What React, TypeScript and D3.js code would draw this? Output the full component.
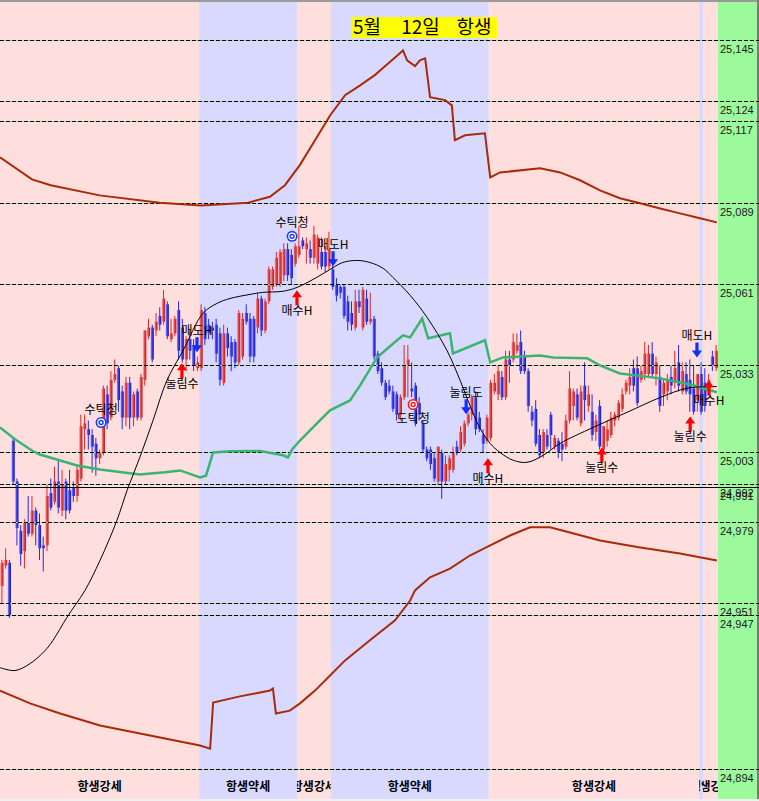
import React from "react";
import * as d3 from "d3";

// ---------- DATA ----------
// candles: [open, high, low, close]
const candles: [number, number, number, number][] = [
  [24957,24966,24951,24965],[24964,24970,24963,24966],[24965,24966,24946,24947],[25007,25008,24992,24993],
  [24993,24994,24971,24977],[24976,24978,24964,24968],[24969,24980,24963,24979],[24979,24988,24974,24975],
  [24975,24988,24974,24983],[24983,24984,24971,24978],[24978,24982,24966,24970],[24971,24974,24962,24970],
  [24971,24992,24969,24988],[24989,24994,24983,24984],[24986,24998,24985,24993],[24993,25000,24982,24984],
  [24983,24997,24981,24992],[24993,24994,24980,24983],[24990,24997,24982,24983],[24991,24993,24986,24988],
  [24988,24999,24986,24997],[24994,25016,24993,25012],[25011,25016,25004,25013],[25011,25014,25004,25009],
  [25009,25011,24996,25005],[25006,25008,24995,25001],[25001,25004,24999,25003],[25003,25026,25002,25025],
  [25023,25026,25011,25013],[25015,25031,25014,25028],[25028,25035,25027,25030],[25032,25033,25017,25021],
  [25024,25026,25011,25015],[25015,25029,25012,25027],[25027,25029,25011,25015],[25015,25024,25012,25023],
  [25024,25025,25014,25015],[25015,25030,25014,25029],[25028,25045,25026,25045],[25043,25049,25042,25046],
  [25046,25047,25034,25035],[25045,25051,25043,25048],[25050,25053,25045,25047],[25048,25059,25047,25056],
  [25054,25055,25042,25043],[25042,25049,25041,25044],[25044,25050,25043,25049],[25052,25055,25035,25038],
  [25046,25049,25034,25035],[25035,25043,25031,25042],[25042,25045,25035,25038],[25040,25042,25031,25033],
  [25032,25036,25031,25034],[25032,25054,25031,25052],[25051,25053,25040,25042],[25047,25049,25042,25044],
  [25046,25048,25042,25045],[25047,25049,25034,25037],[25044,25046,25026,25028],[25027,25047,25026,25044],
  [25044,25046,25036,25039],[25041,25043,25031,25036],[25041,25042,25032,25034],[25034,25052,25033,25051],
  [25036,25051,25035,25049],[25051,25054,25047,25048],[25049,25051,25034,25036],[25049,25050,25034,25036],
  [25046,25058,25044,25056],[25056,25057,25043,25045],[25045,25056,25044,25055],[25055,25067,25054,25066],
  [25060,25067,25059,25066],[25061,25072,25060,25070],[25061,25073,25060,25072],[25064,25075,25062,25073],
  [25073,25075,25062,25064],[25071,25073,25061,25063],[25068,25075,25067,25074],[25071,25081,25070,25074],
  [25076,25077,25073,25074],[25073,25077,25068,25075],[25073,25076,25068,25070],[25070,25081,25068,25078],
  [25068,25078,25066,25077],[25072,25077,25066,25067],[25072,25074,25065,25067],[25067,25079,25066,25073],
  [25066,25069,25059,25060],[25061,25063,25055,25057],[25060,25061,25056,25058],[25060,25061,25049,25050],
  [25055,25057,25045,25048],[25051,25055,25045,25047],[25046,25059,25045,25055],[25055,25059,25051,25053],
  [25046,25060,25045,25059],[25056,25059,25047,25048],[25048,25058,25047,25049],[25049,25050,25035,25036],
  [25037,25038,25030,25031],[25032,25034,25026,25027],[25027,25028,25021,25022],[25026,25028,25023,25024],
  [25024,25026,25017,25018],[25023,25024,25014,25016],[25016,25023,25014,25022],[25022,25040,25021,25033],
  [25033,25040,25022,25035],[25025,25034,25022,25024],[25026,25027,25012,25013],[25020,25022,25014,25016],
  [25013,25014,25003,25004],[25004,25005,25000,25001],[25004,25005,24997,24999],[25001,25003,24993,24994],
  [24993,25005,24992,25005],[25003,25004,24987,24993],[24993,25002,24992,24999],[24997,25002,24993,25001],
  [24997,25005,24996,25003],[25005,25007,25002,25003],[25004,25012,25003,25010],[25006,25014,25005,25013],
  [25013,25017,25012,25016],[25016,25023,25014,25022],[25022,25024,25009,25011],[25015,25017,25010,25011],
  [25009,25011,25003,25006],[25007,25016,25006,25015],[25008,25028,25007,25027],[25024,25030,25023,25027],
  [25023,25033,25021,25031],[25029,25031,25021,25022],[25022,25038,25021,25035],[25035,25038,25027,25033],
  [25035,25044,25034,25041],[25038,25044,25037,25040],[25041,25045,25030,25031],[25036,25038,25030,25031],
  [25031,25032,25017,25019],[25017,25019,25012,25014],[25018,25021,25005,25006],[25009,25011,25001,25002],
  [25003,25011,25001,25010],[25009,25011,25004,25005],[25016,25017,25004,25009],[25005,25009,25004,25008],
  [25007,25008,25001,25003],[25006,25010,25000,25004],[25005,25016,25004,25014],[25014,25031,25013,25025],
  [25019,25025,25014,25024],[25023,25025,25014,25015],[25013,25026,25012,25024],[25026,25034,25014,25021],
  [25019,25026,25017,25023],[25017,25023,25007,25009],[25010,25016,25007,25014],[25019,25021,25004,25005],
  [25004,25012,25003,25012],[25007,25014,25005,25011],[25009,25017,25008,25015],[25014,25017,25012,25016],
  [25015,25021,25014,25020],[25018,25025,25017,25023],[25024,25028,25023,25027],[25026,25032,25023,25029],
  [25032,25035,25024,25026],[25032,25036,25019,25020],[25028,25033,25027,25031],[25030,25041,25028,25037],
  [25030,25040,25029,25037],[25037,25041,25029,25030],[25030,25036,25026,25034],[25029,25033,25017,25019],
  [25023,25028,25019,25027],[25024,25030,25021,25028],[25029,25033,25023,25026],[25027,25038,25025,25032],
  [25034,25040,25024,25026],[25024,25034,25023,25031],[25030,25034,25023,25024],[25028,25035,25017,25023],
  [25025,25033,25016,25017],[25021,25030,25017,25030],[25030,25034,25016,25017],[25027,25032,25017,25019],
  [25024,25030,25023,25028],[25036,25038,25031,25033],[25032,25040,25031,25038],
];

const priceLevels = [25145, 25124, 25117, 25089, 25061, 25033, 25003, 24992, 24979, 24951, 24947, 24894];
const solidLevel = 24991;

const regimes = [
  { from: 0, to: 53, label: "항생강세", strong: true },
  { from: 53, to: 79, label: "항생약세", strong: false },
  { from: 79, to: 88, label: "항생강세", strong: true },
  { from: 88, to: 130, label: "항생약세", strong: false },
  { from: 130, to: 186, label: "항생강세", strong: true },
  { from: 186, to: 187, label: "항생약세", strong: false },
  { from: 187, to: 191, label: "항생강세", strong: true },
];

// [candle index, price]
const upperBand: [number, number][] = [
  [-0.5,25104.6],[8,25097],[13,25095],[26,25091.5],[42,25089],[53,25088],[65.5,25089],[71.3,25091],
  [75.3,25095],[79.3,25102],[83.3,25110.5],[87.3,25119],[91.3,25126],[95.3,25129.4],[99.3,25133],
  [101.9,25136],[104.6,25139],[106.7,25141.4],[107.8,25138],[109.9,25136],[111.2,25138],[112.6,25138.7],
  [113.9,25125.3],[117.9,25124.3],[119.7,25122.5],[120.5,25110.5],[123.2,25112.2],[128.5,25112.9],
  [129.9,25097.7],[132.5,25099.4],[143.2,25100.8],[148.5,25099.4],[153.8,25096.7],[159.1,25093.2],
  [164.4,25090.5],[169.8,25088.8],[175.1,25087],[180.4,25085.3],[185.7,25083.6],[190.2,25082.2],
];
const lowerBand: [number, number][] = [
  [-0.5,24921],[7.5,24916.6],[15.5,24913.1],[26.1,24909],[39.4,24905.5],[52.7,24902.1],[55.4,24901],
  [56.2,24916.9],[63.3,24919],[71.3,24921],[72.1,24921.7],[72.9,24913.1],[76.6,24914.1],[79.3,24916.6],
  [83.3,24921],[87.3,24926.2],[91.3,24931.4],[97.9,24938.3],[104.6,24945.2],[108.6,24952],[109.9,24955.5],
  [113.9,24960],[119.2,24963],[124.5,24967.5],[129.9,24971],[135.2,24974.4],[140.5,24977.2],[145.8,24977.2],
  [151.1,24975.4],[159.1,24972.7],[169.8,24970.3],[180.4,24968.2],[190.2,24965.8],
];
const greenLine: [number, number][] = [
  [-0.5,25011.6],[3.5,25007.5],[8.3,25003.4],[10.1,25002.3],[20,24998.5],[26.1,24997.1],[36.7,24995.4],
  [43.4,24996.2],[47.4,24996.8],[52.7,24994.4],[54.3,24995],[56.2,25003],[60.7,25003.4],[68.7,25003.5],
  [74.8,25002],[76.1,25001.3],[77.2,25004],[79.3,25007.1],[84.6,25014],[87.3,25017.5],[92.6,25020.9],
  [95.3,25026.1],[99.8,25035.7],[104.1,25040.5],[106.7,25043.3],[108.6,25042.6],[111.8,25049.1],
  [113.4,25042.3],[119.2,25044],[120,25037.1],[128.5,25041.6],[129.9,25034],[133.3,25035.7],[143.2,25036.4],
  [146.6,25035.7],[155.7,25035.4],[159.1,25033],[164.4,25030.2],[175.1,25028.5],[183.9,25026.1],[190.2,25023.7],
];
const blackCurve: [number, number][] = [
  [-0.5,24928.9],[3.5,24927.9],[7.5,24930.3],[11.5,24934.8],[13.6,24938.3],[17.3,24946.2],[22.1,24955.5],
  [26.1,24965.8],[30.6,24979.6],[33.3,24989.9],[36.7,25001.3],[40.2,25014],[43.9,25027.8],[48.2,25038.1],
  [53.5,25050.9],[57.2,25054.3],[60.7,25056],[66,25057.4],[69.4,25058.1],[74.8,25058.5],[78.5,25059.8],
  [83.8,25063.3],[87.8,25066.4],[90.7,25068.4],[94.4,25069.1],[97.9,25068.4],[101.4,25066.4],[104,25063.3],
  [108.6,25057.1],[113.1,25049.5],[118.4,25038.1],[121.9,25027.8],[124.5,25019.2],[127.2,25011.3],
  [129.9,25006.1],[132.5,25003],[136,25000.3],[139.7,24999.6],[144,25002],[148.5,25006.1],[157.3,25011.6],
  [166.3,25016.8],[175.1,25021.9],[182.3,25025.1],[190.2,25025.7],
];

const signals = [
  { label: "매도H", idx: 51.9, price: 25037.5, dir: "down" },
  { label: "눌림수", idx: 47.9, price: 25033.7, dir: "up" },
  { label: "매도H", idx: 88.1, price: 25067.1, dir: "down" },
  { label: "매수H", idx: 78.5, price: 25058.8, dir: "up" },
  { label: "눌림도", idx: 123.5, price: 25016.1, dir: "down" },
  { label: "매수H", idx: 129.3, price: 25001, dir: "up" },
  { label: "눌림수", idx: 159.6, price: 25004.7, dir: "up" },
  { label: "눌림수", idx: 183.1, price: 25015.4, dir: "up" },
  { label: "매도H", idx: 184.9, price: 25035.7, dir: "down" },
  { label: "매수H", idx: 188.1, price: 25027.8, dir: "up" },
];
const tickMarks = [
  { label: "수틱청", idx: 26.4, price: 25013.3, kind: "buy" },
  { label: "수틱청", idx: 77.2, price: 25077.4, kind: "buy" },
  { label: "도틱청", idx: 109.4, price: 25019.5, kind: "sell" },
];
const titleParts = ["5월", "12일", "항생"];

// ---------- CHART ----------
const W = 759;
const H = 801;
const PLOT_R = 718;
const KR = "'Noto Sans CJK KR', sans-serif";
const NUM = "'Liberation Sans', Arial, sans-serif";

function arrowPath(ax: number, ay: number, dir: string) {
  const s = dir === "up" ? 1 : -1;
  const p = d3.path();
  p.moveTo(ax, ay);
  p.lineTo(ax + 5, ay + s * 7);
  p.lineTo(ax + 1.6, ay + s * 7);
  p.lineTo(ax + 1.6, ay + s * 15);
  p.lineTo(ax - 1.6, ay + s * 15);
  p.lineTo(ax - 1.6, ay + s * 7);
  p.lineTo(ax - 5, ay + s * 7);
  p.closePath();
  return p.toString();
}

export default function App() {
  const N = candles.length;
  const x = d3.scaleLinear().domain([0, N]).range([0, PLOT_R]);
  const y = d3.scaleLinear().domain([24894, 25145]).range([769, 40]);
  const cx = (i: number) => x(i + 0.5);
  const fmt = d3.format(",");
  const lin = d3.line<[number, number]>().x((d) => cx(d[0])).y((d) => y(d[1]));
  const smooth = d3
    .line<[number, number]>()
    .x((d) => cx(d[0]))
    .y((d) => y(d[1]))
    .curve(d3.curveCatmullRom);
  const bw = 3.2;
  // title layout: box 352..497, three word groups spaced apart
  const titleX = d3.scalePoint<string>().domain(titleParts).range([367, 474]);

  return (
    <svg
      width={W}
      height={H}
      style={{ position: "absolute", left: 0, top: 0, display: "block" }}
      xmlns="http://www.w3.org/2000/svg"
    >
      <defs>
        <linearGradient id="gUp" x1="0" x2="1" y1="0" y2="0">
          <stop offset="0" stopColor="#f7a0a0" />
          <stop offset="0.4" stopColor="#e84848" />
          <stop offset="1" stopColor="#b81818" />
        </linearGradient>
        <linearGradient id="gDn" x1="0" x2="1" y1="0" y2="0">
          <stop offset="0" stopColor="#9a9aff" />
          <stop offset="0.4" stopColor="#4040ee" />
          <stop offset="1" stopColor="#1818b0" />
        </linearGradient>
        {regimes.map((r, k) => (
          <clipPath id={`rc${k}`} key={k}>
            <rect x={x(r.from)} y={0} width={x(r.to) - x(r.from)} height={H} />
          </clipPath>
        ))}
      </defs>

      <rect x={0} y={0} width={W} height={H} fill="#f0f0f0" />
      {regimes.map((r, k) => (
        <rect
          key={k}
          x={x(r.from)}
          y={0}
          width={x(r.to) - x(r.from)}
          height={799}
          fill={r.strong ? "#ffdede" : "#d9d9ff"}
        />
      ))}
      <rect x={PLOT_R} y={0} width={W - PLOT_R} height={799} fill="#9cf99c" />
      <rect x={0} y={0} width={W} height={2} fill="#9a9a9a" />
      <rect x={757} y={0} width={2} height={799} fill="#7a7a7a" />

      {/* candles */}
      {candles.map(([o, h, l, c], i) => {
        const up = c >= o;
        const top = y(Math.max(o, c));
        const bot = y(Math.min(o, c));
        return (
          <g key={i}>
            <line
              x1={cx(i)}
              x2={cx(i)}
              y1={y(h)}
              y2={y(l)}
              stroke={up ? "#e02828" : "#2828e0"}
              strokeWidth={1}
            />
            <rect
              x={cx(i) - bw / 2}
              y={top}
              width={bw}
              height={Math.max(1, bot - top)}
              fill={up ? "url(#gUp)" : "url(#gDn)"}
            />
          </g>
        );
      })}

      {/* reference lines */}
      {priceLevels.map((p, k) => (
        <g key={k}>
          <line x1={0} x2={W} y1={Math.round(y(p)) + 0.5} y2={Math.round(y(p)) + 0.5} stroke="#8ee88e" strokeWidth={1} />
          <line
            x1={0}
            x2={W}
            y1={Math.round(y(p)) + 0.5}
            y2={Math.round(y(p)) + 0.5}
            stroke="#000"
            strokeWidth={1}
            strokeDasharray="4,2"
          />
        </g>
      ))}
      <line x1={0} x2={W} y1={Math.round(y(solidLevel)) + 0.5} y2={Math.round(y(solidLevel)) + 0.5} stroke="#000" strokeWidth={1} />

      {/* bands */}
      <path d={lin(upperBand) || ""} fill="none" stroke="#a82a08" strokeWidth={2} />
      <path d={lin(lowerBand) || ""} fill="none" stroke="#a82a08" strokeWidth={2} />
      <path d={lin(greenLine) || ""} fill="none" stroke="#3cb371" strokeWidth={2.5} />
      <path d={smooth(blackCurve) || ""} fill="none" stroke="#000" strokeWidth={1} />

      {/* tick marks */}
      {tickMarks.map((t, k) => {
        const px = cx(t.idx);
        const py = y(t.price);
        const col = t.kind === "buy" ? "#1a3cff" : "#ff1a1a";
        return (
          <g key={k}>
            <circle cx={px} cy={py} r={5.5} fill={col} />
            <circle cx={px} cy={py} r={3.3} fill="none" stroke="#fff" strokeWidth={1.2} />
            <circle cx={px} cy={py} r={1.2} fill="#fff" />
            <text
              x={px}
              y={t.kind === "buy" ? py - 9 : py + 18}
              textAnchor="middle"
              fontFamily={KR}
              fontSize={12}
              fill="#000"
            >
              {t.label}
            </text>
          </g>
        );
      })}

      {/* signals */}
      {signals.map((s, k) => {
        const px = cx(s.idx);
        const py = y(s.price);
        const up = s.dir === "up";
        return (
          <g key={k}>
            <path d={arrowPath(px, py, s.dir)} fill={up ? "#ff0000" : "#1030ff"} />
            <text
              x={px}
              y={up ? py + 25 : py - 17}
              textAnchor="middle"
              fontFamily={KR}
              fontSize={12}
              fill="#000"
            >
              {s.label}
            </text>
          </g>
        );
      })}

      {/* price labels */}
      {[...priceLevels, solidLevel].map((p, k) => (
        <text key={k} x={720} y={Math.round(y(p)) + 13} fontFamily={NUM} fontSize={11} fill="#1a1a1a">
          {fmt(p)}
        </text>
      ))}

      {/* regime labels */}
      {regimes.map((r, k) => (
        <g key={k} clipPath={`url(#rc${k})`}>
          <text
            x={(x(r.from) + x(r.to)) / 2}
            y={791}
            textAnchor="middle"
            fontFamily={KR}
            fontWeight="bold"
            fontSize={12}
            fill="#000"
          >
            {r.label}
          </text>
        </g>
      ))}

      {/* title */}
      <rect x={352} y={17} width={145} height={21} fill="#ffff00" />
      {titleParts.map((t, k) => (
        <text
          key={k}
          x={titleX(t)}
          y={34}
          textAnchor="middle"
          fontFamily={KR}
          fontSize={19}
          fill="#000"
        >
          {t}
        </text>
      ))}
    </svg>
  );
}
